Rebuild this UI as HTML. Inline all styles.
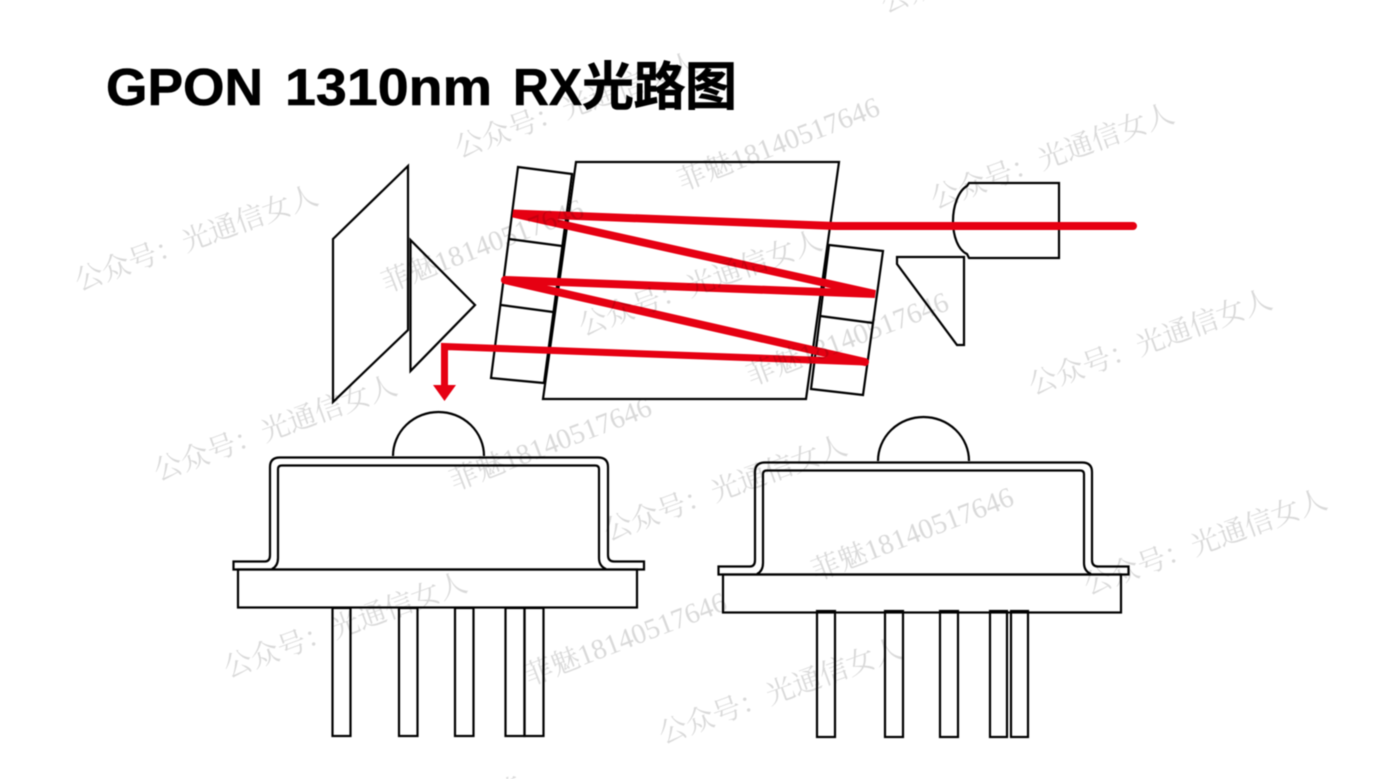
<!DOCTYPE html>
<html lang="zh">
<head>
<meta charset="utf-8">
<title>GPON 1310nm RX光路图</title>
<style>
html,body{margin:0;padding:0;background:#fff;width:1384px;height:779px;overflow:hidden}
svg{display:block;filter:blur(.4px)}
.b{fill:none;stroke:#000;stroke-width:2.200;stroke-linejoin:miter}
.r{fill:none;stroke:#e60012;stroke-width:8;stroke-linecap:round;stroke-linejoin:bevel}
.w{font-family:"Liberation Serif","Noto Serif CJK SC",serif;font-size:28.500px;fill:#000;fill-opacity:.15}
.t{font-family:"Liberation Sans","Noto Sans CJK SC",sans-serif;font-size:52px;font-weight:700;fill:#000;stroke:#000;stroke-width:.6}
</style>
</head>
<body>
<svg width="1384" height="779" viewBox="0 0 1384 779" xmlns="http://www.w3.org/2000/svg">
<rect width="1384" height="779" fill="#fff"/>

<text class="t" x="106" y="105" textLength="157" lengthAdjust="spacingAndGlyphs">GPON</text>
<text class="t" x="285" y="105" textLength="207" lengthAdjust="spacingAndGlyphs">1310nm</text>
<text class="t" x="513" y="105" textLength="69" lengthAdjust="spacingAndGlyphs">RX</text>
<text class="t" x="582" y="105" textLength="155">光路图</text>

<!-- left wedge and prism -->
<polygon class="b" points="333,239 408,166 408,330 333,402"/>
<polygon class="b" points="410.500,240 475,305 410.500,371"/>

<!-- left slab -->
<polygon class="b" points="518,167 572,174 544,383 491,378"/>
<line class="b" x1="509" y1="239" x2="562" y2="246"/>
<line class="b" x1="501" y1="305" x2="553" y2="312"/>

<!-- main block -->
<polygon class="b" points="576,162 839,162 806,399 543,399"/>

<!-- right slab -->
<polygon class="b" points="829,245 883,251 863,395 811,389"/>
<line class="b" x1="820" y1="316" x2="873" y2="323"/>

<!-- lens -->
<path class="b" d="M969,183 H1059 V258 H969 L967,254 C958,250 953,236 953,221 C953,207 958,191 967,186 Z"/>

<!-- small prism -->
<polygon class="b" points="897,257 964,257 964,345 957,345 897,264"/>

<!-- left TO can -->
<path class="b" d="M393,456 A45.500,44 0 0 1 484,456"/>
<path class="b" d="M233.500,561.500 H265 Q270,561.500 270,555 V467 Q270,457.500 280,457.500 H598 Q608,457.500 608,467 V555 Q608,561.500 614,561.500 H644 V569.500 H233.500 Z"/>
<path class="b" d="M272,569 Q278,566 278,558 V469 Q278,465.500 282,465.500 H595 Q599,465.500 599,469 V558 Q599,566 606,569"/>
<rect class="b" x="238" y="569.500" width="399" height="38"/>
<rect class="b" x="332.500" y="608" width="18" height="128"/>
<rect class="b" x="399" y="608" width="18.500" height="128"/>
<rect class="b" x="455" y="608" width="18.500" height="128"/>
<rect class="b" x="505.500" y="608" width="19" height="128"/>
<rect class="b" x="524.500" y="608" width="19" height="128"/>

<!-- right TO can -->
<path class="b" d="M878,461 A45.500,44 0 0 1 969,461"/>
<path class="b" d="M718.500,566.500 H750 Q755,566.500 755,560 V472 Q755,462.500 765,462.500 H1082 Q1092,462.500 1092,472 V560 Q1092,566.500 1098,566.500 H1128.500 V574.500 H718.500 Z"/>
<path class="b" d="M757,574 Q763,571 763,563 V474 Q763,470.500 767,470.500 H1080 Q1084,470.500 1084,474 V563 Q1084,571 1091,574"/>
<rect class="b" x="723" y="574.500" width="398" height="38"/>
<rect class="b" x="817" y="611" width="18" height="126"/>
<rect class="b" x="885" y="611" width="18" height="126"/>
<rect class="b" x="940" y="611" width="18" height="126"/>
<rect class="b" x="990" y="611" width="17" height="126"/>
<rect class="b" x="1011" y="611" width="17" height="126"/>

<!-- red beam -->
<path class="r" d="M1133,226 H835 L513,213.500 L875,294 L505,280"/>
<path class="r" d="M505,280 L865,362"/>
<path class="r" style="stroke-linejoin:miter;stroke-linecap:butt;stroke-width:7" d="M865,362 L444.500,346.500 V386"/>
<circle cx="865" cy="362" r="3.500" fill="#e60012"/>
<polygon points="433,385 456,385 444.500,401" fill="#e60012"/>

<!-- watermarks -->
<g class="w">
<text transform="translate(79,291) rotate(-20)">公众号：光通信女人</text>
<text transform="translate(158,481) rotate(-20)">公众号：光通信女人</text>
<text transform="translate(228,678) rotate(-20)">公众号：光通信女人</text>
<text transform="translate(459,158) rotate(-20)">公众号：光通信女人</text>
<text transform="translate(608,541) rotate(-20)">公众号：光通信女人</text>
<text transform="translate(663,744) rotate(-20)">公众号：光通信女人</text>
<text transform="translate(583,336) rotate(-20)">公众号：光通信女人</text>
<text transform="translate(935,209) rotate(-20)">公众号：光通信女人</text>
<text transform="translate(1033,395) rotate(-20)">公众号：光通信女人</text>
<text transform="translate(1088,595) rotate(-20)">公众号：光通信女人</text>
<text transform="translate(885,13) rotate(-20)">公众号：光通信女人</text>
<text transform="translate(682,191) rotate(-21)">菲魅18140517646</text>
<text transform="translate(386,293) rotate(-21)">菲魅18140517646</text>
<text transform="translate(454,491) rotate(-21)">菲魅18140517646</text>
<text transform="translate(529,686) rotate(-21)">菲魅18140517646</text>
<text transform="translate(751,386) rotate(-21)">菲魅18140517646</text>
<text transform="translate(816,581) rotate(-21)">菲魅18140517646</text>
<text transform="translate(498,806) rotate(-21)">菲</text>
</g>
</svg>
</body>
</html>
